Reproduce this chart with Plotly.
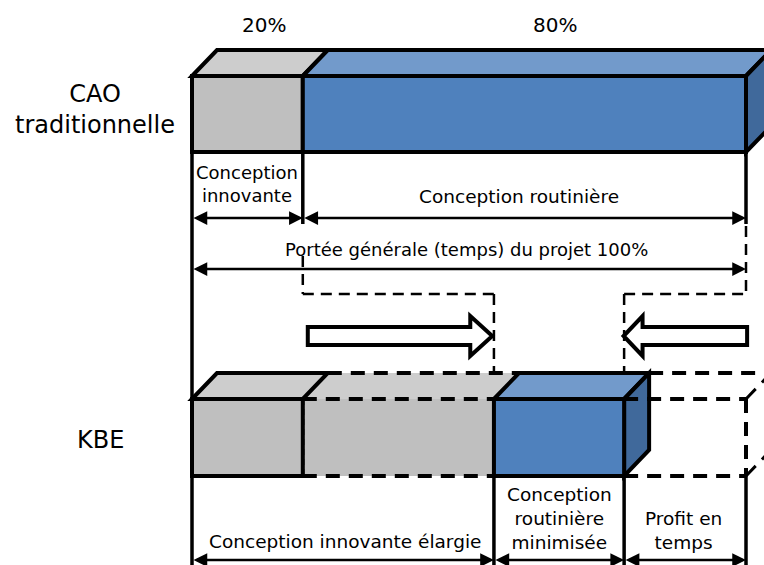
import plotly.graph_objects as go

# ---------------- data ----------------
row_labels = ["CAO<br>traditionnelle", "KBE"]
cao_segments = ["Conception<br>innovante", "Conception routinière"]
cao_values = [20, 80]                      # % of project time
cao_pct_labels = ["20%", "80%"]
total_label = "Portée générale (temps) du projet 100%"
kbe_segments = ["Conception innovante élargie",
                "Conception<br>routinière<br>minimisée",
                "Profit en<br>temps"]
kbe_innov_base = 20                        # original innovative part
kbe_innov_ext = 34.5                       # extension of innovative design
kbe_routine = 23.5                         # minimised routine design
kbe_profit = 22                            # time profit

# ---------------- style / layout ----------------
W, H = 764, 565
PX = 5.54          # pixels per %
X0 = 192           # pixel of 0 %
DXp, DY = 25, 26   # 3D depth in px
DX = DXp / PX
GRAY, GRAY_TOP = "#BFBFBF", "#CDCDCD"
BLUE, BLUE_TOP, BLUE_SIDE = "#4F81BD", "#729ACB", "#40699B"
FONT = "DejaVu Sans"
row_cao = (76, 152)
row_kbe = (399, 476)

fig = go.Figure()
shapes, annots = [], []


def path(pts, close=True):
    s = "M " + " L ".join(f"{x},{y}" for x, y in pts)
    return s + (" Z" if close else "")


def poly(pts, fill, lw=4, color="black"):
    shapes.append(dict(type="path", path=path(pts), xref="x", yref="y",
                       fillcolor=fill, line=dict(color=color, width=lw), layer="above"))


def fillonly(pts, fill):
    shapes.append(dict(type="path", path=path(pts), xref="x", yref="y",
                       fillcolor=fill, line=dict(width=0), layer="above"))


def seg(x0, y0, x1, y1, lw=3.5, dash="solid"):
    shapes.append(dict(type="line", x0=x0, y0=y0, x1=x1, y1=y1, xref="x", yref="y",
                       line=dict(color="black", width=lw, dash=dash), layer="above"))


def box3d(xa, xb, top, bot, front, topc, side=None, lw=4):
    poly([(xa, top), (xa + DX, top - DY), (xb + DX, top - DY), (xb, top)], topc, lw)
    if side:
        poly([(xb, top), (xb + DX, top - DY), (xb + DX, bot - DY), (xb, bot)], side, lw)
    poly([(xa, top), (xb, top), (xb, bot), (xa, bot)], front, lw)


def text(x, y, t, size=18.5):
    annots.append(dict(x=x, y=y, xref="x", yref="y", text=t, showarrow=False,
                       font=dict(family=FONT, size=size, color="black"),
                       xanchor="center", yanchor="middle"))


def darrow(xa, xb, y):
    annots.append(dict(x=xb, y=y, ax=xa, ay=y, xref="x", yref="y", axref="x", ayref="y",
                       text="", showarrow=True, arrowside="end+start", arrowhead=2,
                       arrowsize=1.1, arrowwidth=2.5, arrowcolor="black",
                       standoff=0, startstandoff=0))


# segment boundaries
c1 = cao_values[0]
c2 = c1 + cao_values[1]
k1 = kbe_innov_base
k2 = k1 + kbe_innov_ext
k3 = k2 + kbe_routine
k4 = k3 + kbe_profit

DASH_A = "11px,7px"
DASH_B = "14px,9px"

# ---- guide lines (behind bars) ----
seg(0, row_cao[1], 0, H, 3.5)
seg(c1, row_cao[1], c1, 224, 3.5)
seg(c2, row_cao[1], c2, 224, 3.5)
seg(c1, 256, c1, 294, 2.5, DASH_A)
seg(c2, 226, c2, 294, 2.5, DASH_A)
seg(c1, 294, k2, 294, 2.5, DASH_A)
seg(k2, 294, k2, row_kbe[0], 2.5, DASH_A)
seg(k3, 294, c2, 294, 2.5, DASH_A)
seg(k3, 294, k3, row_kbe[0], 2.5, DASH_A)

# ---- CAO bar ----
t, b = row_cao
poly([(0, t), (DX, t - DY), (c1 + DX, t - DY), (c1, t)], GRAY_TOP)
poly([(c1, t), (c1 + DX, t - DY), (c2 + DX, t - DY), (c2, t)], BLUE_TOP)
poly([(c2, t), (c2 + DX, t - DY), (c2 + DX, b - DY), (c2, b)], BLUE_SIDE)
poly([(0, t), (c1, t), (c1, b), (0, b)], GRAY)
poly([(c1, t), (c2, t), (c2, b), (c1, b)], BLUE)

# ---- KBE bar ----
t, b = row_kbe
fillonly([(k1, t), (k1 + DX, t - DY), (k2 + DX, t - DY), (k2, t)], GRAY_TOP)
fillonly([(k1, t), (k2, t), (k2, b), (k1, b)], GRAY)
poly([(0, t), (DX, t - DY), (k1 + DX, t - DY), (k1, t)], GRAY_TOP)
poly([(0, t), (k1, t), (k1, b), (0, b)], GRAY)
box3d(k2, k3, t, b, BLUE, BLUE_TOP, BLUE_SIDE)
# dashed outlines: extended innovative part
seg(k1, t, k2, t, 4, DASH_B)
seg(k1, b, k2, b, 4, DASH_B)
seg(k1 + DX, t - DY, k2 + DX, t - DY, 4, DASH_B)
seg(k1, t, k1, b, 3, "6px,4px")
# dashed outlines: time profit
seg(k3, t, k4, t, 4, DASH_B)
seg(k3, b, k4, b, 4, DASH_B)
seg(k4, t, k4, b, 4, DASH_B)
seg(k3 + DX, t - DY, k4 + DX + 5, t - DY, 4, DASH_B)
seg(k4, t, k4 + DX, t - DY, 3, DASH_B)
seg(k4, b, k4 + DX, b - DY, 3, DASH_B)
seg(k4 + DX, t - DY, k4 + DX, b - DY, 4, DASH_B)

# bottom verticals
for xv in (k2, k3, k4):
    seg(xv, b, xv, H, 3.5)

# ---- block arrows ----
ym, hb, hh = 336, 9, 20
tip = k2 - 0.3
hx = tip - 22 / PX
tail = c1 + 0.9
poly([(tail, ym - hb), (hx, ym - hb), (hx, ym - hh), (tip, ym), (hx, ym + hh),
      (hx, ym + hb), (tail, ym + hb)], "white", 4)
tip = k3 - 0.1
hx = tip + 19 / PX
tail = c2 + 0.2
poly([(tail, ym - hb), (hx, ym - hb), (hx, ym - hh), (tip, ym), (hx, ym + hh),
      (hx, ym + hb), (tail, ym + hb)], "white", 4)

# ---- dimension arrows ----
darrow(0, c1, 218)
darrow(c1, c2, 218)
darrow(0, c2, 269)
darrow(0, k2, 560)
darrow(k2, k3, 560)
darrow(k3, k4, 560)

# ---- texts ----
text(c1 / 2 + 3, 25, cao_pct_labels[0], 20)
text((c1 + c2) / 2 + 5.5, 25, cao_pct_labels[1], 20)
text(-17.5, 109, row_labels[0], 24)
text(-16.5, 440, row_labels[1], 24)
text(c1 / 2, 184, cao_segments[0], 18)
text((c1 + c2) / 2 - 1, 196, cao_segments[1])
text(c2 / 2 - 0.5, 249, total_label, 18)
text(k2 / 2 + 0.3, 541, kbe_segments[0])
text((k2 + k3) / 2, 518, kbe_segments[1])
text((k3 + k4) / 2 - 0.3, 530, kbe_segments[2])

fig.update_layout(
    width=W, height=H, autosize=False,
    margin=dict(l=0, r=0, t=0, b=0),
    paper_bgcolor="white", plot_bgcolor="white",
    showlegend=False,
    xaxis=dict(range=[-X0 / PX, (W - X0) / PX], visible=False, fixedrange=True),
    yaxis=dict(range=[H, 0], visible=False, fixedrange=True),
    shapes=shapes, annotations=annots,
)
fig.write_html("out.html", config={"displayModeBar": False},
               post_script="document.body.style.margin='0px';")
